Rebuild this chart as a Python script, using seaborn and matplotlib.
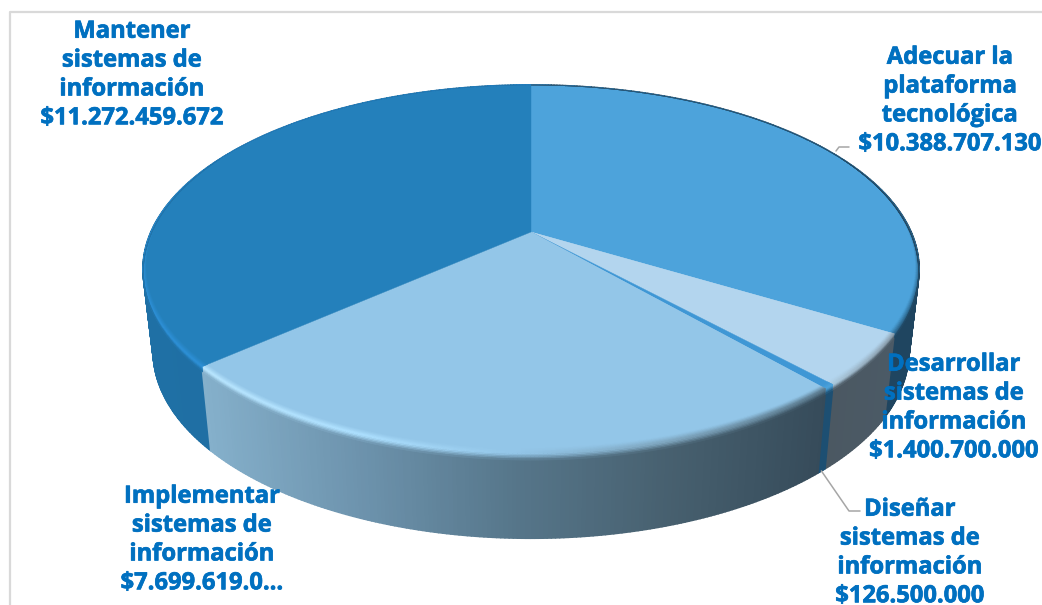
import numpy as np
import matplotlib
matplotlib.use("Agg")
import matplotlib.pyplot as plt
import matplotlib.patheffects as pe
from matplotlib.collections import PolyCollection
from matplotlib.colors import to_rgb
import seaborn as sns

# Budget per activity, clockwise from twelve o'clock
activities = ["Adecuar la\nplataforma\ntecnológica",
              "Desarrollar\nsistemas de\ninformación",
              "Diseñar\nsistemas de\ninformación",
              "Implementar\nsistemas de\ninformación",
              "Mantener\nsistemas de\ninformación"]
budgets = [10388707130, 1400700000, 126500000, 7699619000, 11272459672]
budget_labels = ["$10.388.707.130", "$1.400.700.000", "$126.500.000",
                 "$7.699.619.0...", "$11.272.459.672"]

top_colors = ["#4da3db", "#b3d5ee", "#3f97d5", "#93c6e8", "#2480bb"]
wall_stops = [["#1f4560", "#1f4560"],
              ["#4b5862", "#4b5a66"],
              ["#1d4f72", "#1d4f72"],
              ["#85b0cb", "#6d93ad", "#56768a", "#47606f", "#364b5a"],
              ["#1f70a5", "#1c6a9e"]]
rim_stops = [["#3d86b8", "#2f6c94"],
             ["#aac8dc", "#8c9fae"],
             ["#4da3db", "#4da3db"],
             ["#b9e6ff", "#ade0ff", "#93c6e8", "#7fa6bf", "#5b7a8e"],
             ["#2e90d6", "#2e90d6"]]
label_centers = [(950, 101), (954, 408), (910, 553), (202, 540), (132, 75)]

sns.set_theme(style="white")
plt.rcParams["font.family"] = ["Open Sans", "DejaVu Sans"]

fig = plt.figure(figsize=(10.42, 6.05), dpi=100, facecolor="white")
ax = fig.add_axes([0, 0, 1, 1])
ax.set_xlim(0, 1042)
ax.set_ylim(605, 0)
ax.axis("off")

# Perspective of the disc: x and y are on the unit circle, y pointing to the back
CX, K = 531, 0.201


def top_face(x, y):
    d = 1 + K * y
    return CX + 380 * x / d, (-129.9 * y + 232) / d


def base_face(x, y):
    d = 1 + K * y
    return CX + 370 * x / d, (-116 * y + 314) / d


def surface(theta, s):
    """s < 0 moves inward on the top face, s >= 0 moves down the outer wall."""
    x, y = np.sin(theta), np.cos(theta)
    bevel = np.clip((0.45 - y) / 1.45, 0, 1)
    if s < 0:
        r = 1 + s * 0.16 * bevel
        return top_face(x * r, y * r)
    tx, ty = top_face(x, y)
    bx, by = base_face(x, y)
    t = s * bevel
    return tx + (bx - tx) * t, ty + (by - ty) * t


def ramp(stops, positions):
    palette = np.array(sns.blend_palette(stops, 256))
    return palette[np.clip((positions * 255).astype(int), 0, 255)]


fractions = np.array(budgets) / sum(budgets)
edges = np.concatenate([[0], np.cumsum(fractions)]) * 2 * np.pi

quads, colors, depth = [], [], []
faces = []
for i in range(len(budgets)):
    n = max(4, int((edges[i + 1] - edges[i]) * 110))
    th = np.linspace(edges[i], edges[i + 1], n + 1)
    xs, ys = np.sin(th), np.cos(th)
    tx, ty = top_face(xs, ys)
    bx, by = base_face(xs, ys)
    x_min, x_max = tx.min(), tx.max()
    pos = ((tx[:-1] + tx[1:]) / 2 - x_min) / max(x_max - x_min, 1)
    wall = ramp(wall_stops[i], pos)
    rim = ramp(rim_stops[i], pos)
    top = np.array(to_rgb(top_colors[i]))

    # Outer wall of the slice
    for j in range(n):
        quads.append([(tx[j], ty[j]), (tx[j + 1], ty[j + 1]),
                      (bx[j + 1], by[j + 1]), (bx[j], by[j])])
        colors.append(wall[j])
        depth.append(ys[j])

    # Flat top of the slice
    cx0, cy0 = top_face(0, 0)
    poly = np.column_stack([np.r_[cx0, tx], np.r_[cy0, ty]])

    # Soft bevel between the top and the wall
    levels = np.linspace(-0.12, 0.085, 13)
    band_q, band_c = [], []
    for a, b in zip(levels[:-1], levels[1:]):
        mid = (a + b) / 2
        for j in range(n):
            band_q.append([surface(th[j], a), surface(th[j + 1], a),
                           surface(th[j + 1], b), surface(th[j], b)])
            if mid < 0:
                w = 1 - mid / -0.12
                c = top + (rim[j] - top) * w ** 1.2
            else:
                w = max(0.0, (mid / 0.085 - 0.2) / 0.8)
                c = rim[j] + (wall[j] - rim[j]) * w
            band_c.append(c)
    faces.append((poly, top, band_q, band_c))

order = np.argsort(-np.array(depth))
ax.add_collection(PolyCollection([quads[k] for k in order],
                                 facecolors=[colors[k] for k in order],
                                 edgecolors=[colors[k] for k in order],
                                 linewidths=1.3, zorder=2))
for poly, top, band_q, band_c in faces:
    ax.fill(poly[:, 0], poly[:, 1], color=top, lw=0.3, zorder=3)
for poly, top, band_q, band_c in faces:
    ax.add_collection(PolyCollection(band_q, facecolors=band_c, edgecolors=band_c,
                                     linewidths=0.4, zorder=4))

# Chart frame
ax.plot([9.5, 9.5, 1042], [605, 12, 12], color="#d9d9d9", lw=1.6, zorder=1)

# Leader lines
mid_small = (edges[2] + edges[3]) / 2
sx, sy = base_face(np.sin(mid_small), np.cos(mid_small))
ax.plot([sx, 849, 860], [sy, 511, 511], color="#a6a6a6", lw=1.1, zorder=5)
ax.plot([836, 839, 849], [151, 147, 147], color="#a6a6a6", lw=1.1, zorder=5)

# Data labels
for name, amount, (lx, ly) in zip(activities, budget_labels, label_centers):
    t = ax.text(lx, ly, f"{name}\n{amount}", ha="center", va="center",
                color="#0070c0", fontsize=17.1, fontweight="bold",
                linespacing=1.27, zorder=6, clip_on=True)
    t.set_path_effects([pe.withStroke(linewidth=0.5, foreground="#0070c0")])

fig.savefig("out.png", dpi=100)
